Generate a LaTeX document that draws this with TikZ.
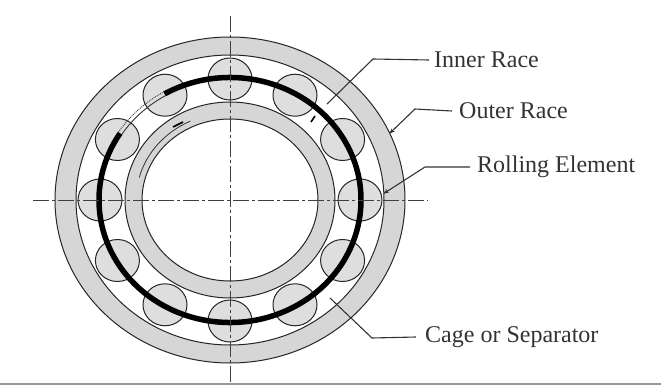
\documentclass[tikz,border=0pt]{standalone}
\usepackage{fontspec}
\setmainfont{Liberation Serif}
\usetikzlibrary{arrows.meta, positioning}

\begin{document}
\begin{tikzpicture}[
  x=1pt, y=-1pt,
  ring/.style={draw=black!85, line width=1pt},
  race/.style={ring, fill=gray!32, even odd rule},
  roller/.style={draw=black!85, line width=1pt, fill=gray!26},
  centerline/.style={draw=black!75, line width=0.9pt, dash pattern=on 16pt off 3pt on 3pt off 3pt},
  leader/.style={draw=black!80, line width=1.1pt},
  lbl/.style={anchor=west, inner sep=0pt, text=black!80, font=\fontsize{24}{26}\selectfont},
  >={Stealth[length=6pt, width=4pt]}
]
\useasboundingbox (0,0) rectangle (661,385);

% races
\path[race] (230,200) ellipse [x radius=175, y radius=163] (230,200) ellipse [x radius=154, y radius=145];
\path[race] (230,200) ellipse [x radius=105, y radius=98] (230,200) ellipse [x radius=88, y radius=81];

% rolling elements
\foreach \a in {0,30,...,330}
  \draw[roller] ({230+130*cos(\a)},{200+121*sin(\a)}) ellipse [x radius=22, y radius=21];

% cage
\draw[black, line width=5.5pt] (230,200) ++(240:131 and 122.5) arc [start angle=240, end angle=573, x radius=131, y radius=122.5];
\draw[black!80, line width=0.9pt] (230,200) ++(213:129 and 120.5) arc [start angle=213, end angle=240, x radius=129, y radius=120.5];
\draw[black!80, line width=0.9pt, densely dotted] (230,200) ++(213:133 and 124.5) arc [start angle=213, end angle=240, x radius=133, y radius=124.5];

% small marks
\draw[black!80, line width=0.8pt] (230,200) ++(195:94 and 87) arc [start angle=195, end angle=245, x radius=94, y radius=87];
\draw[black, line width=1.6pt] (173,127) -- (183,122);
\draw[black, line width=1.6pt] (311,122) -- (315,116);

% center lines
\draw[centerline] (33,200) -- (428,200);
\draw[centerline] (230,16) -- (230,383);

% bottom rule
\draw[gray!80, line width=1.2pt] (0,384) -- (661,384);

% labels
\node[lbl] (inner) at (434,60) {Inner Race};
\node[lbl] (outer) at (459,111) {Outer Race};
\node[lbl] (rolling) at (477,167) {Rolling Element};
\node[lbl] (cage) at (425,337) {Cage or Separator};

\coordinate (innerend) at (327,104);
\coordinate (outerend) at (389,134);
\coordinate (rollingend) at (383,194);
\coordinate (cageend) at (330,298);

\draw[leader] ([xshift=-5pt]inner.west) -- (373,59) -- (innerend);
\draw[leader, ->] ([xshift=-7pt]outer.west) -- (415,109) -- (outerend);
\draw[leader, ->] ([xshift=-7pt]rolling.west) -- (425,167) -- (rollingend);
\draw[leader] ([xshift=-9pt]cage.west) -- (372,338) -- (cageend);
\end{tikzpicture}
\end{document}
